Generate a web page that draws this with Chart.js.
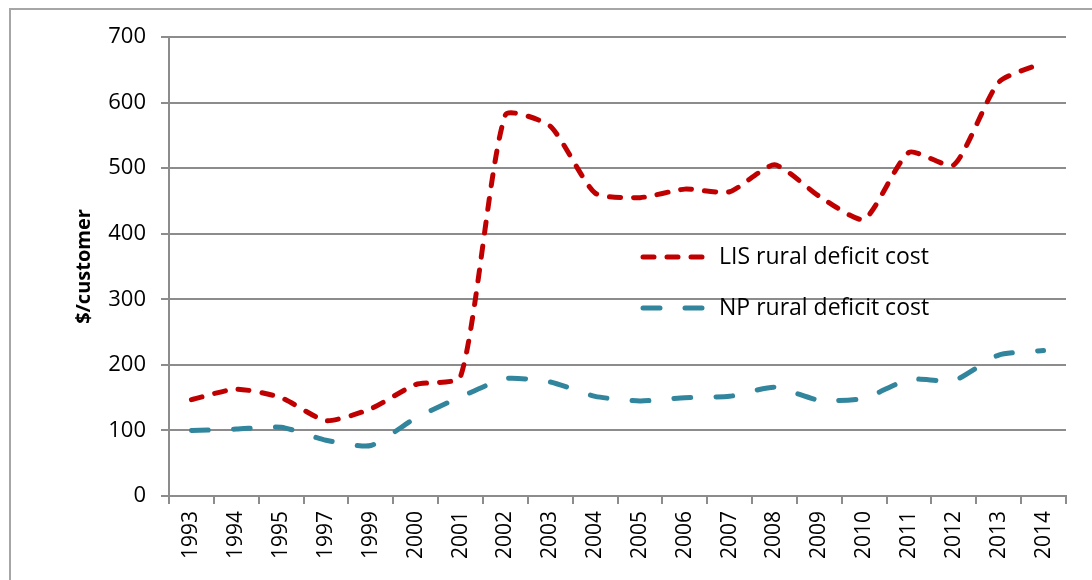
<!DOCTYPE html>
<html>
<head>
<meta charset="utf-8">
<script src="https://cdn.jsdelivr.net/npm/chart.js@4/dist/chart.umd.min.js"></script>
<style>
    body { margin: 0; background: #fff; }
    #wrap { position: relative; width: 1092px; height: 580px; overflow: hidden; }
    #frame { position: absolute; left: 9px; top: 8px; width: 1200px; height: 700px;
             border-top: 2px solid #a6a6a6; border-left: 2px solid #a6a6a6; }
    canvas { position: absolute; left: 0; top: 0; }
</style>
</head>
<body>
<div id="wrap">
    <div id="frame"></div>
    <canvas id="costChart" width="1092" height="580"></canvas>
</div>
<script>
const years = ['1993', '1994', '1995', '1997', '1999', '2000', '2001', '2002', '2003', '2004',
    '2005', '2006', '2007', '2008', '2009', '2010', '2011', '2012', '2013', '2014'];
const lisCost = [147, 163, 150, 115, 133, 170, 182, 581, 564, 462, 455, 468, 464, 505, 457, 422, 524, 505, 631, 661];
const npCost = [100, 102, 105, 85, 77, 119, 151, 179, 174, 152, 145, 150, 152, 166, 146, 149, 178, 176, 215, 222];
const seriesNames = ['LIS rural deficit cost', 'NP rural deficit cost'];
const yTicks = [0, 100, 200, 300, 400, 500, 600, 700];

const gridColor = '#8c8c8c';

// legend sits inside the plot, drawn from the dataset styles
const insideLegend = {
    id: 'insideLegend',
    afterDraw(chart) {
        const ctx = chart.ctx;
        const rows = [257, 308];
        ctx.save();
        chart.data.datasets.forEach((ds, i) => {
            const y = rows[i];
            ctx.beginPath();
            ctx.strokeStyle = ds.borderColor;
            ctx.lineWidth = ds.borderWidth;
            ctx.lineCap = 'round';
            ctx.setLineDash(ds.borderDash);
            ctx.moveTo(643, y);
            ctx.lineTo(704, y);
            ctx.stroke();
            ctx.setLineDash([]);
            ctx.fillStyle = '#000';
            ctx.font = "23px 'Open Sans'";
            ctx.textBaseline = 'middle';
            ctx.fillText(ds.label, 719, y);
        });
        ctx.restore();
    }
};

Chart.defaults.font.family = "'Open Sans', sans-serif";
Chart.defaults.color = '#000';

new Chart(document.getElementById('costChart'), {
    type: 'line',
    data: {
        labels: years,
        datasets: [{
            label: seriesNames[0],
            data: lisCost,
            borderColor: '#c00000',
            borderWidth: 5,
            borderDash: [11, 13],
            borderCapStyle: 'round',
            pointRadius: 0,
            tension: 0.2,
            fill: false,
        }, {
            label: seriesNames[1],
            data: npCost,
            borderColor: '#31859c',
            borderWidth: 5,
            borderDash: [17, 25],
            borderCapStyle: 'round',
            pointRadius: 0,
            tension: 0.2,
            fill: false,
        }]
    },
    options: {
        responsive: false,
        animation: false,
        layout: { padding: { left: 62, top: 37, right: 26, bottom: 0 } },
        plugins: {
            legend: { display: false },
            tooltip: { enabled: false },
        },
        scales: {
            x: {
                offset: true,
                grid: {
                    offset: true,
                    drawOnChartArea: false,
                    drawTicks: true,
                    tickLength: 8,
                    color: gridColor,
                    lineWidth: 2,
                },
                border: { display: true, color: gridColor, width: 2 },
                ticks: {
                    minRotation: 90,
                    maxRotation: 90,
                    padding: 7,
                    autoSkip: false,
                    font: { size: 21 },
                },
                afterFit(scale) { scale.height = 84; },
            },
            y: {
                min: yTicks[0],
                max: yTicks[yTicks.length - 1],
                afterBuildTicks(scale) { scale.ticks = yTicks.map(v => ({ value: v })); },
                grid: {
                    color: gridColor,
                    lineWidth: 2,
                    tickLength: 8,
                },
                border: { display: true, color: gridColor, width: 2 },
                ticks: {
                    padding: 15,
                    font: { size: 22 },
                },
                title: {
                    display: true,
                    text: '$/customer',
                    font: { size: 20, weight: 'bold' },
                    padding: { top: 10, bottom: 0 },
                },
                afterFit(scale) { scale.width = 107; },
            },
        },
    },
    plugins: [insideLegend],
});
</script>
</body>
</html>
